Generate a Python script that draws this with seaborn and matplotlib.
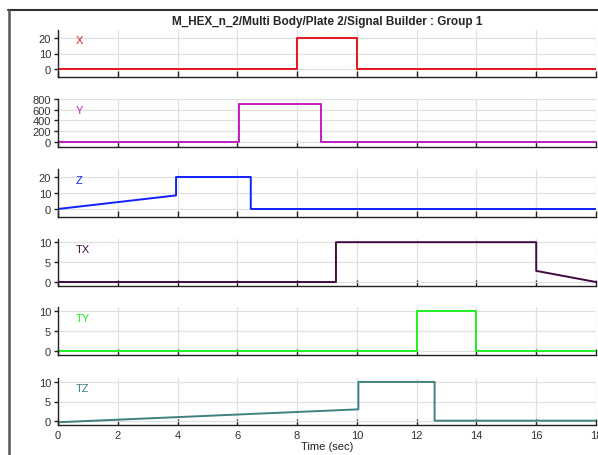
import matplotlib
matplotlib.use("Agg")
import matplotlib.pyplot as plt
import seaborn as sns
import pandas as pd
from matplotlib.lines import Line2D

sns.set_style("ticks")
plt.rcParams['font.family'] = ['Liberation Sans', 'DejaVu Sans']

# signal breakpoints (time, value)
x_t = [0, 8, 8, 10, 10, 18]
x_v = [0, 0, 20, 20, 0, 0]
y_t = [0, 6.05, 6.05, 8.8, 8.8, 18]
y_v = [0, 0, 700, 700, 0, 0]
z_t = [0, 3.95, 3.95, 6.45, 6.45, 18]
z_v = [0, 8.5, 20, 20, 0, 0]
tx_t = [0, 9.3, 9.3, 16, 16, 18]
tx_v = [0, 0, 10, 10, 2.8, 0]
ty_t = [0, 12, 12, 14, 14, 18]
ty_v = [0, 0, 10, 10, 0, 0]
tz_t = [0, 10.05, 10.05, 12.6, 12.6, 18]
tz_v = [-0.3, 3.0, 10, 10, 0.1, 0.1]

names = ["X", "Y", "Z", "TX", "TY", "TZ"]
times = [x_t, y_t, z_t, tx_t, ty_t, tz_t]
values = [x_v, y_v, z_v, tx_v, ty_v, tz_v]
colors = ["#e8141c", "#c01ec0", "#1020ff", "#400a40", "#22ee22", "#3f8080"]
ylims = [(-5, 25), (-100, 800), (-5, 25), (-1, 10.8), (-1, 11), (-1, 11)]
yticks = [[0, 10, 20], [0, 200, 400, 600, 800], [0, 10, 20], [0, 5, 10], [0, 5, 10], [0, 5, 10]]
# pixel rows (top, bottom) of each panel
rows = [(31, 78), (100, 148), (170, 218), (240, 287), (308, 356), (379, 426)]

W, H = 598, 456
fig = plt.figure(figsize=(W / 100, H / 100), dpi=100)

left, right = 58, 596
for i, name in enumerate(names):
    top, bot = rows[i]
    ax = fig.add_axes([left / W, 1 - bot / H, (right - left) / W, (bot - top) / H])
    df = pd.DataFrame({"t": times[i], "v": values[i]})
    sns.lineplot(data=df, x="t", y="v", ax=ax, color=colors[i], lw=1.4,
                 estimator=None, sort=False)
    ax.set_xlim(0, 18)
    ax.set_ylim(*ylims[i])
    ax.set_xticks(range(0, 19, 2))
    ax.set_yticks(yticks[i])
    ax.grid(True, color="#e0e0e0", lw=0.9)
    ax.set_axisbelow(True)
    for s in ["top", "right"]:
        ax.spines[s].set_visible(False)
    for s in ["bottom", "left"]:
        ax.spines[s].set_color("#222222")
        ax.spines[s].set_linewidth(1.0)
    ax.tick_params(axis="x", bottom=True, top=False, direction="in", length=4,
                   width=1, color="#222222", labelsize=8, labelcolor="#333333")
    ax.tick_params(axis="y", left=True, right=False, direction="out", length=3,
                   width=1, color="#222222", labelsize=8, labelcolor="#333333", pad=2)
    ax.set_xlabel("")
    ax.set_ylabel("")
    if i < len(names) - 1:
        ax.set_xticklabels([])
    else:
        ax.set_xlabel("Time (sec)", fontsize=8, color="#222222", labelpad=1)
    ax.text(0.033, 0.78, name, transform=ax.transAxes, color=colors[i],
            fontsize=8, va="center", ha="left")

fig.text(((left + right) / 2) / W, 1 - 22 / H,
         "M_HEX_n_2/Multi Body/Plate 2/Signal Builder : Group 1",
         ha="center", va="center", fontsize=8.5, fontweight="bold")

# window frame lines
fig.add_artist(Line2D([8 / W, 1], [1 - 10.5 / H, 1 - 10.5 / H], color="#333333", lw=1.5))
fig.add_artist(Line2D([8.5 / W, 8.5 / W], [0, 1 - 10.5 / H], color="#555555", lw=1.8))

fig.savefig("out.png", dpi=100)
